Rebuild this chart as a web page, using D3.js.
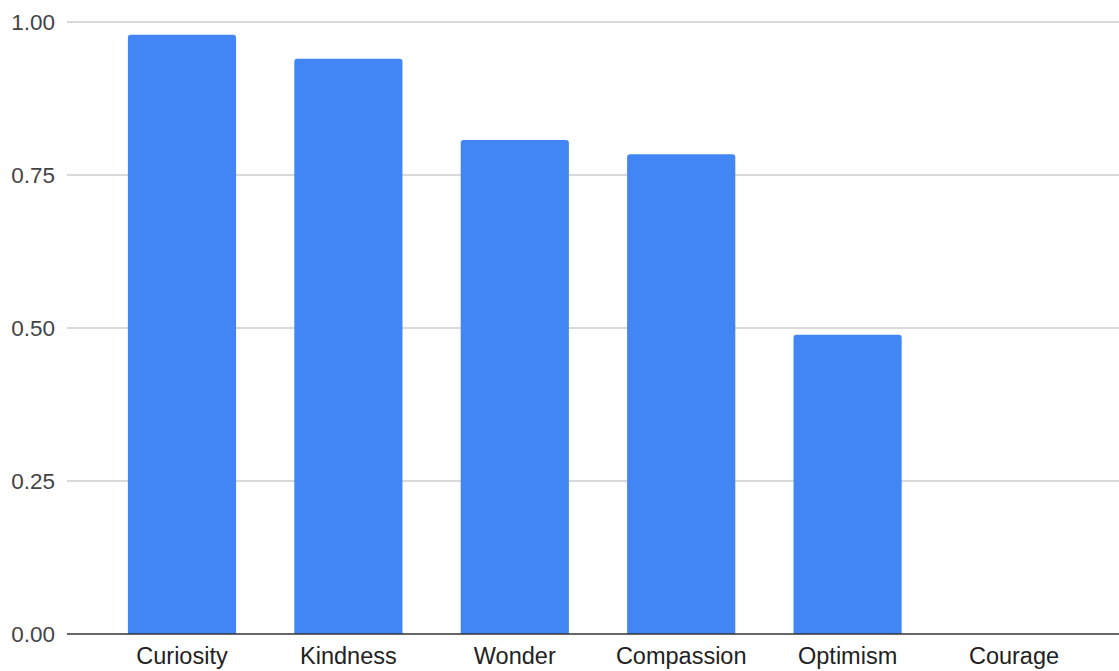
<!DOCTYPE html>
<html>
<head>
<meta charset="utf-8">
<script src="https://cdn.jsdelivr.net/npm/d3@7"></script>
<style>
  body { margin: 0; background: #fff; }
  svg { display: block; }
</style>
</head>
<body>
<div id="chart"></div>
<script>
// data
const CATEGORIES = ["Curiosity", "Kindness", "Wonder", "Compassion", "Optimism", "Courage"];
const VALUES = [0.979, 0.940, 0.807, 0.784, 0.489, 0.0];
const Y_TICKS = [0, 0.25, 0.5, 0.75, 1.0];

const FRAME_WIDTH = 1119;
const FRAME_HEIGHT = 671;
const MARGINS = {left: 67, right: -10, top: 22, bottom: 37};
const FONT = "'Liberation Sans', Arial, sans-serif";

const FRAME = d3.select("#chart")
                .append("svg")
                  .attr("width", FRAME_WIDTH)
                  .attr("height", FRAME_HEIGHT);

// scales
const X_SCALE = d3.scaleBand()
                  .domain(CATEGORIES)
                  .range([MARGINS.left, FRAME_WIDTH - MARGINS.right])
                  .paddingInner(0.35)
                  .paddingOuter(0.366);

const Y_SCALE = d3.scaleLinear()
                  .domain([0, 1])
                  .range([FRAME_HEIGHT - MARGINS.bottom, MARGINS.top]);

// gridlines
FRAME.append("g")
  .selectAll("line")
  .data(Y_TICKS.filter(d => d > 0))
  .enter()
  .append("line")
    .attr("x1", MARGINS.left)
    .attr("x2", FRAME_WIDTH)
    .attr("y1", d => Y_SCALE(d))
    .attr("y2", d => Y_SCALE(d))
    .attr("stroke", "#cccccc")
    .attr("stroke-width", 1.3);

// bars, rounded on top only
const R = 3;
FRAME.append("g")
  .selectAll("path")
  .data(CATEGORIES.map((c, i) => ({cat: c, val: VALUES[i]})).filter(d => d.val > 0))
  .enter()
  .append("path")
    .attr("fill", "#4285f4")
    .attr("d", d => {
      const x0 = X_SCALE(d.cat), x1 = x0 + X_SCALE.bandwidth();
      const y0 = Y_SCALE(0), y1 = Y_SCALE(d.val);
      return `M${x0},${y0} L${x0},${y1 + R} Q${x0},${y1} ${x0 + R},${y1}` +
             ` L${x1 - R},${y1} Q${x1},${y1} ${x1},${y1 + R} L${x1},${y0} Z`;
    });

// y axis labels
const yAxis = FRAME.append("g")
  .attr("transform", "translate(" + (MARGINS.left - 12) + ",0)")
  .call(d3.axisLeft(Y_SCALE).tickValues(Y_TICKS).tickFormat(d3.format(".2f")).tickSize(0).tickPadding(0));
yAxis.select(".domain").remove();
yAxis.selectAll("text")
  .attr("font-family", FONT)
  .attr("font-size", "22.5px")
  .attr("fill", "#444");

// baseline
FRAME.append("line")
  .attr("x1", MARGINS.left)
  .attr("x2", FRAME_WIDTH)
  .attr("y1", Y_SCALE(0))
  .attr("y2", Y_SCALE(0))
  .attr("stroke", "#333333")
  .attr("stroke-width", 1.5);

// x axis labels
const xAxis = FRAME.append("g")
  .attr("transform", "translate(0," + Y_SCALE(0) + ")")
  .call(d3.axisBottom(X_SCALE).tickSize(0).tickPadding(13));
xAxis.select(".domain").remove();
xAxis.selectAll("text")
  .attr("font-family", FONT)
  .attr("font-size", "23.5px")
  .attr("fill", "#222");
</script>
</body>
</html>
